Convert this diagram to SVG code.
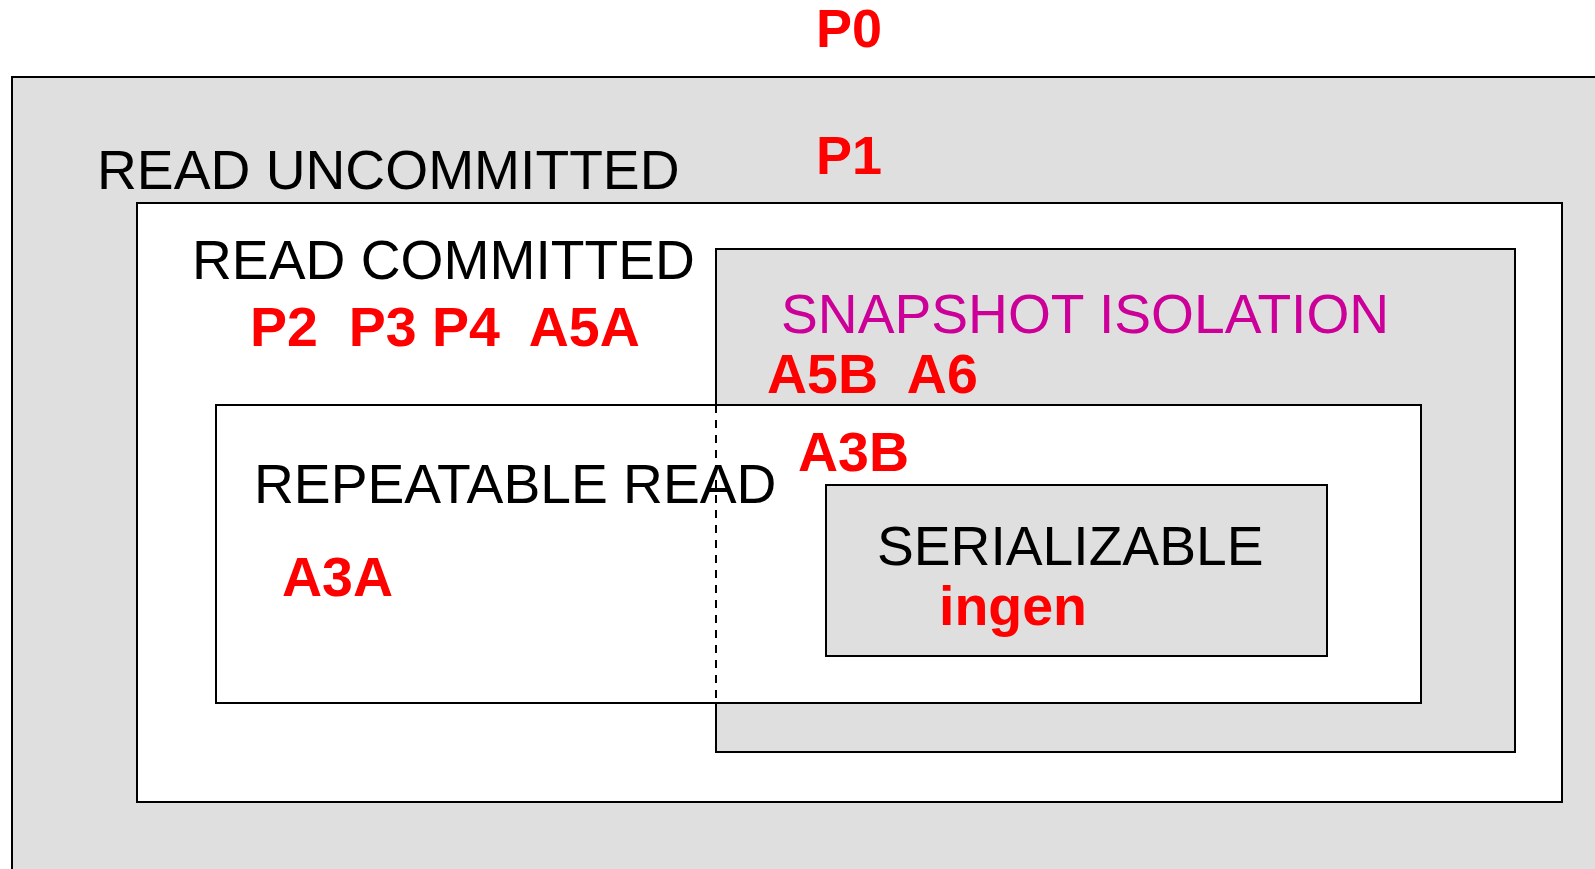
<svg xmlns="http://www.w3.org/2000/svg" width="1595" height="869" viewBox="0 0 1595 869">
  <style>
    .box { stroke: #000; stroke-width: 2; }
    .grey { fill: #dfdfdf; }
    .white { fill: #fff; }
    .lvl { font-family: "Liberation Sans", Arial, sans-serif; font-size: 55.2px; fill: #000; }
    .anom { font-family: "Liberation Sans", Arial, sans-serif; font-size: 55.5px; font-weight: bold; fill: #ff0000; white-space: pre; }
    .top { font-size: 54px; }
    .si { font-family: "Liberation Sans", Arial, sans-serif; font-size: 55.2px; fill: #cc0099; }
  </style>
  <rect width="1595" height="869" fill="#fff"/>

  <text class="anom top" x="816" y="47">P0</text>

  <g id="read-uncommitted-area">
    <rect class="box grey" x="12" y="77" width="1600" height="810"/>
    <text class="lvl" x="97" y="189">READ UNCOMMITTED</text>
    <text class="anom top" x="816" y="174">P1</text>
  </g>

  <g id="read-committed">
    <rect class="box white" x="137" y="203" width="1425" height="599" stroke-width="2.6"/>
    <text class="lvl" x="192" y="279">READ COMMITTED</text>
    <text class="anom" x="250" y="346" xml:space="preserve">P2  P3 P4  A5A</text>
  </g>

  <g id="snapshot-isolation">
    <rect class="box grey" x="716" y="249" width="799" height="503"/>
    <text class="si" x="781" y="333">SNAPSHOT ISOLATION</text>
    <text class="anom" x="767" y="393" xml:space="preserve">A5B  A6</text>
  </g>

  <g id="repeatable-read">
    <rect class="box white" x="216" y="405" width="1205" height="298"/>
    <text class="lvl" x="254" y="503">REPEATABLE READ</text>
    <text class="anom" x="282" y="596">A3A</text>
    <text class="anom" x="798" y="471">A3B</text>
  </g>

  <g id="connectors">
    <!-- hidden edge of snapshot isolation inside repeatable read -->
    <line x1="716" y1="405" x2="716" y2="703" stroke="#000" stroke-width="2" stroke-dasharray="8 7"/>
  </g>

  <g id="serializable">
    <rect class="box grey" x="826" y="485" width="501" height="171"/>
    <text class="lvl" x="877" y="565">SERIALIZABLE</text>
    <text class="anom" x="939" y="625">ingen</text>
  </g>
</svg>
